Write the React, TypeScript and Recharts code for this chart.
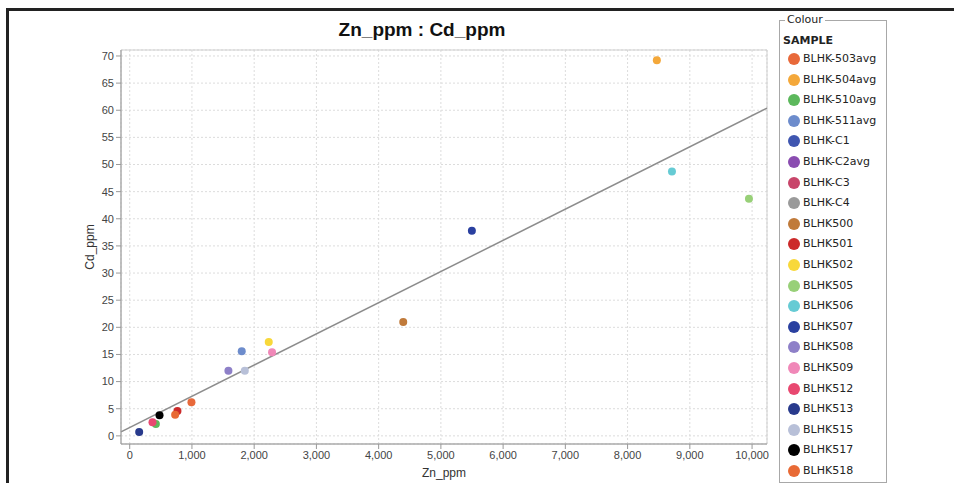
import React from "react";
import {
  ScatterChart,
  Scatter,
  XAxis,
  YAxis,
  CartesianGrid,
  ReferenceLine,
  ReferenceArea,
  Label,
} from "recharts";

// samples as listed in the legend
const sampleNames = [
  "BLHK-503avg", "BLHK-504avg", "BLHK-510avg", "BLHK-511avg", "BLHK-C1",
  "BLHK-C2avg", "BLHK-C3", "BLHK-C4", "BLHK500", "BLHK501", "BLHK502",
  "BLHK505", "BLHK506", "BLHK507", "BLHK508", "BLHK509", "BLHK512",
  "BLHK513", "BLHK515", "BLHK517", "BLHK518",
];
const sampleColours = [
  "#e8693a", "#f4a83a", "#5cb85c", "#6d8ccc", "#3f56b0",
  "#8a4cb0", "#c8456a", "#9a9a9a", "#c07a3a", "#cc2a2a", "#f8d83a",
  "#98d078", "#66cbd4", "#2a40a0", "#8e80c8", "#f088b8", "#e84870",
  "#283a8c", "#b8c0d8", "#000000", "#e86a35",
];
// null = no visible point
const znPpm = [
  992, 8470, 420, 1800, null,
  null, null, null, 4395, 767, 2234,
  9950, 8713, 5498, 1586, 2287, 366,
  152, 1849, 479, 730,
];
const cdPpm = [
  6.2, 69.2, 2.2, 15.6, null,
  null, null, null, 21.0, 4.6, 17.3,
  43.7, 48.7, 37.8, 12.0, 15.4, 2.5,
  0.7, 12.0, 3.8, 3.9,
];

const xTicks = [0, 1000, 2000, 3000, 4000, 5000, 6000, 7000, 8000, 9000, 10000];
const yTicks = [0, 5, 10, 15, 20, 25, 30, 35, 40, 45, 50, 55, 60, 65, 70];
const xDomain = [-140, 10240];
const yDomain = [-1.5, 71.1];

// regression line end points (read at the plot edges)
const trendLine = [
  { zn: -140, cd: 0.74 },
  { zn: 10240, cd: 60.4 },
];

const tickStyle = { fontSize: 11, fill: "#444", fontFamily: "Liberation Sans, Arial, sans-serif" };

const Dot = (props: any) => <circle cx={props.cx} cy={props.cy} r={4} fill={props.fill} />;

const XTitle = (props: any) => {
  const vb = props.viewBox;
  return (
    <text x={vb.x + vb.width / 2} y={477} textAnchor="middle" fontSize={12} fill="#333"
      fontFamily="Liberation Sans, Arial, sans-serif">Zn_ppm</text>
  );
};

const YTitle = (props: any) => {
  const vb = props.viewBox;
  const cy = vb.y + vb.height / 2;
  return (
    <text x={94} y={cy} textAnchor="middle" fontSize={12} fill="#333" transform={`rotate(-90, 94, ${cy})`}
      fontFamily="Liberation Sans, Arial, sans-serif">Cd_ppm</text>
  );
};

const fmt = (v: number) => v.toLocaleString("en-US");

export default function App() {
  return (
    <div style={{ position: "absolute", left: 0, top: 0, width: 954, height: 483, overflow: "hidden", background: "#fff" }}>
      <div style={{ position: "absolute", left: 6, top: 8, width: 1000, height: 600, borderTop: "3px solid #222", borderLeft: "3px solid #222" }} />
      <div style={{ position: "absolute", left: 0, top: 19, width: 844, textAlign: "center", fontFamily: "Liberation Sans, Arial, sans-serif", fontWeight: "bold", fontSize: 19, color: "#111" }}>
        Zn_ppm : Cd_ppm
      </div>
      <div style={{ position: "absolute", left: 0, top: 0 }}>
        <ScatterChart width={775} height={483} margin={{ top: 50, right: 8, bottom: 0, left: 0 }}>
          <CartesianGrid stroke="#dcdcdc" strokeDasharray="2 2" />
          <XAxis type="number" dataKey="zn" domain={xDomain} ticks={xTicks} allowDataOverflow
            height={39} tickSize={5} tickFormatter={fmt} tick={tickStyle}
            stroke="#999" interval={0}>
            <Label content={XTitle} />
          </XAxis>
          <YAxis type="number" dataKey="cd" domain={yDomain} ticks={yTicks} allowDataOverflow
            width={121} tickSize={5} tick={tickStyle} stroke="#999" interval={0}>
            <Label content={YTitle} />
          </YAxis>
          <ReferenceArea x1={xDomain[0]} x2={xDomain[1]} y1={yDomain[0]} y2={yDomain[1]}
            fill="none" stroke="#cfcfcf" strokeWidth={1} ifOverflow="visible" />
          <ReferenceLine segment={[{ x: trendLine[0].zn, y: trendLine[0].cd }, { x: trendLine[1].zn, y: trendLine[1].cd }]}
            stroke="#8c8c8c" strokeWidth={1.5} ifOverflow="visible" />
          {sampleNames.map((name, i) =>
            znPpm[i] === null ? null : (
              <Scatter key={name} name={name} data={[{ zn: znPpm[i], cd: cdPpm[i] }]}
                fill={sampleColours[i]} shape={Dot} isAnimationActive={false} />
            )
          )}
        </ScatterChart>
      </div>
      <div style={{ position: "absolute", left: 779, top: 20, width: 106, height: 461, border: "1px solid #a8a8a8", fontFamily: "DejaVu Sans, sans-serif", fontSize: 11, color: "#222" }}>
        <div style={{ position: "absolute", left: 5, top: -8, background: "#fff", padding: "0 2px", lineHeight: "14px" }}>Colour</div>
        <div style={{ position: "absolute", left: 3, top: 13, fontWeight: "bold", lineHeight: "14px" }}>SAMPLE</div>
        {sampleNames.map((name, i) => (
          <div key={name} style={{ position: "absolute", left: 8, top: 31 + i * 20.6, height: 14, lineHeight: "14px", display: "flex", alignItems: "center" }}>
            <span style={{ width: 12, height: 12, borderRadius: 6, background: sampleColours[i], display: "inline-block", marginRight: 3 }} />
            <span>{name}</span>
          </div>
        ))}
      </div>
    </div>
  );
}
